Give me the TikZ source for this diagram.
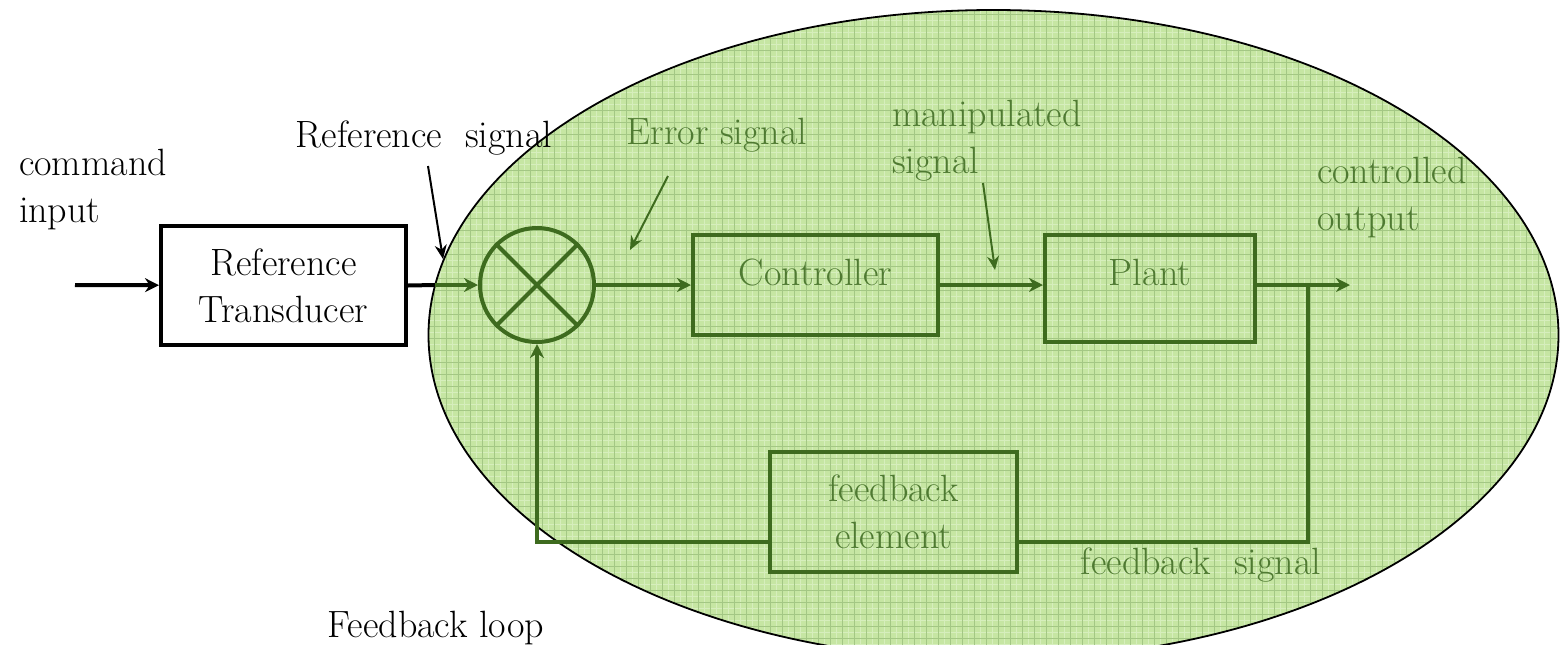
\documentclass[tikz,border=0pt]{standalone}
\usetikzlibrary{calc, positioning, arrows.meta}
\usepackage{xcolor}
\definecolor{leaf}{HTML}{C6E6A3}
\definecolor{gridgreen}{HTML}{A3C784}
\definecolor{gridlight}{HTML}{D6EEBD}
\definecolor{darkleaf}{HTML}{3E6B1F}
\definecolor{leaftext}{HTML}{4F7A32}

\begin{document}
\begin{tikzpicture}[x=0.5pt, y=-0.5pt, >={Stealth[length=7pt, width=7pt]},
  every node/.style={font=\fontsize{19}{23.5}\selectfont}]
\tikzstyle{black block}=[draw, line width=2pt, align=center, inner sep=0pt]
\tikzstyle{green block}=[draw=darkleaf, text=leaftext, line width=2pt, align=center, inner sep=0pt]
\tikzstyle{black line}=[line width=2pt]
\tikzstyle{green line}=[darkleaf, line width=2pt]
\tikzstyle{pointer}=[line width=1pt, -{Stealth[length=7pt, width=6pt]}]
\tikzstyle{green label}=[text=leaftext]

\useasboundingbox (0,0) rectangle (1560,644);

% green region with its grid
\fill[leaf] (993.5,335) ellipse [x radius=282.5pt, y radius=162.5pt];
\begin{scope}
\clip (993.5,335) ellipse [x radius=282.5pt, y radius=162.5pt];
\foreach \gx in {428,440,...,1562} \draw[gridlight, line width=0.4pt] (\gx,0) -- (\gx,660);
\foreach \gy in {8,20,...,662} \draw[gridlight, line width=0.4pt] (420,\gy) -- (1562,\gy);
\foreach \gx in {434,446,...,1562} \draw[gridgreen, line width=0.35pt] (\gx,0) -- (\gx,660);
\foreach \gy in {14,26,...,662} \draw[gridgreen, line width=0.35pt] (420,\gy) -- (1562,\gy);
\end{scope}
\draw[line width=0.9pt] (993.5,335) ellipse [x radius=282.5pt, y radius=162.5pt];

% blocks
\node[black block, minimum width=122.5pt, minimum height=59.5pt] (ref) at (283.5,285.5) {Reference\\Transducer};
\node[green block, circle, minimum size=57pt] (sum) at (537,285) {};
\draw[green line] (sum.north east) -- (sum.south west) (sum.north west) -- (sum.south east);
\node[green block, minimum width=122.5pt, minimum height=50pt, text depth=13pt] (ctrl) at (815.5,285) {Controller};
\node[green block, minimum width=105pt, minimum height=53.5pt, text depth=16pt] (plant) at (1150,288) {Plant};
\node[green block, minimum width=123.5pt, minimum height=60pt] (fb) at (893.5,512) {feedback\\element};

% signal paths
\coordinate (cmd) at (75,285);
\coordinate (rim) at (435,285);
\coordinate (tap) at (1308,285);
\coordinate (out) at (1350,285);
\coordinate (fbin) at ($(fb.south east)!.26!(fb.north east)$);
\draw[black line, ->] (cmd) -- (ref);
\draw[black line] (ref.east) -- (rim);
\draw[green line, ->] (rim) -- (sum);
\draw[green line, ->] (sum) -- (ctrl);
\draw[green line, ->] (ctrl.east) -- (ctrl.east -| plant.west);
\draw[green line, ->] (plant.east |- out) -- (out);
\draw[green line] (tap) |- (fbin);
\draw[green line, ->] (fbin -| fb.west) -| (sum.south);

% labels
\node[align=left, anchor=west] (cmdtext) at (12,190) {command\\input};
\node (refsig) at (424,138) {Reference~~signal};
\coordinate (refsigfrom) at (428,166);
\coordinate (refsigto) at (443,259);
\draw[pointer] (refsigfrom) -- (refsigto);
\node[green label] (errsig) at (717,135) {Error signal};
\coordinate (errsigfrom) at (668,176);
\coordinate (errsigto) at (630,250);
\draw[pointer, darkleaf] (errsigfrom) -- (errsigto);
\node[green label, align=left, anchor=west] (mansig) at (885,141) {manipulated\\signal};
\coordinate (mansigfrom) at (983,183);
\coordinate (mansigto) at (995,270);
\draw[pointer, darkleaf] (mansigfrom) -- (mansigto);
\node[green label, align=left, anchor=west] (outtext) at (1310,198) {controlled\\output};
\node[green label] (fbsig) at (1201,565) {feedback~~signal};
\node (looptext) at (436,628) {Feedback loop};
\end{tikzpicture}
\end{document}
